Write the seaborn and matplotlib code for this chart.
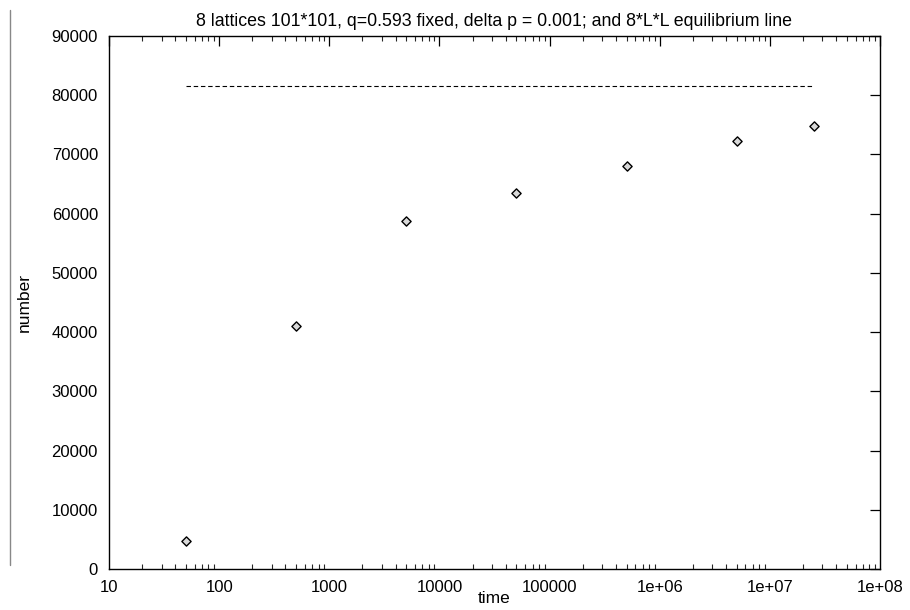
import matplotlib
matplotlib.use("Agg")
import matplotlib.pyplot as plt
import matplotlib.ticker as mticker
from matplotlib.lines import Line2D
import seaborn as sns
import pandas as pd
import numpy as np

times = [50, 500, 5000, 50000, 500000, 5000000, 25000000]
numbers = [4700, 41000, 58700, 63500, 68000, 72200, 74800]
eq_value = 8 * 101 * 101
eq_x = [50, 25000000]
x_ticks = [10, 100, 1000, 10000, 100000, 1e6, 1e7, 1e8]
x_tick_labels = ["10", "100", "1000", "10000", "100000", "1e+06", "1e+07", "1e+08"]
y_ticks = [0, 10000, 20000, 30000, 40000, 50000, 60000, 70000, 80000, 90000]

sns.set_theme(style="white")
plt.rcParams['font.family'] = ['Liberation Sans', 'DejaVu Sans']
plt.rcParams['text.color'] = 'black'
plt.rcParams['axes.labelcolor'] = 'black'

fig = plt.figure(figsize=(9.1, 6.1), dpi=100)
ax = fig.add_axes([109/910, 41/610, (880-109)/910, (569-36)/610])

df = pd.DataFrame({"time": times, "number": numbers})
sns.scatterplot(data=df, x="time", y="number", ax=ax, marker="D", s=22,
                facecolor="#d8d8d8", edgecolor="black", linewidth=1.0, zorder=3)
sns.lineplot(x=eq_x, y=[eq_value, eq_value], ax=ax, color="black",
             linestyle=(0, (4, 2.5)), linewidth=0.8)

ax.set_xscale("log")
ax.set_xlim(10, 1e8)
ax.set_ylim(0, 90000)
ax.set_xticks(x_ticks)
ax.set_xticklabels(x_tick_labels)
ax.xaxis.set_minor_locator(mticker.LogLocator(base=10, subs=np.arange(2, 10), numticks=20))
ax.xaxis.set_minor_formatter(mticker.NullFormatter())
ax.set_yticks(y_ticks)
ax.set_yticklabels([str(v) for v in y_ticks])

ax.tick_params(axis="both", which="major", direction="in", length=7, width=0.9,
               top=True, right=True, labelsize=12, colors="black")
ax.tick_params(axis="x", which="major", pad=8)
ax.tick_params(axis="y", which="major", pad=8)
ax.tick_params(axis="x", which="minor", direction="in", length=3.5, width=0.8,
               top=True, bottom=True)
for sp in ax.spines.values():
    sp.set_color("black")
    sp.set_linewidth(1.0)

ax.set_xlabel("time", fontsize=12.5, labelpad=-3, color="black")
ax.set_ylabel("number", fontsize=12.5, labelpad=14, color="black")
ax.set_title("8 lattices 101*101, q=0.593 fixed, delta p = 0.001; and 8*L*L equilibrium line",
             fontsize=12.8, pad=7, color="black")

fig.add_artist(Line2D([10/910, 10/910], [1 - 10/610, 1 - 565/610], color="#888888", linewidth=1.0))

fig.savefig("out.png", dpi=100, facecolor="white")
